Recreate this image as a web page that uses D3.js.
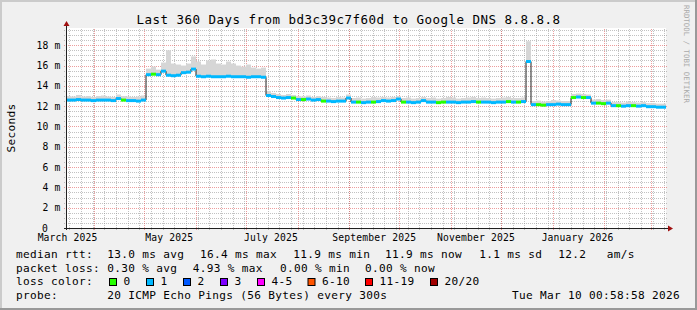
<!DOCTYPE html>
<html lang="en">
<head>
<meta charset="UTF-8">
<title>Last 360 Days from bd3c39c7f60d to Google DNS 8.8.8.8</title>
<script src="https://cdnjs.cloudflare.com/ajax/libs/d3/7.8.5/d3.min.js"></script>
<style>
  body { margin: 0; background: #f0f0f0; }
  svg { display: block; }
  text { font-family: "DejaVu Sans Mono", monospace; fill: #000; }
  .legend { font-size: 11.1px; letter-spacing: 0.32px; white-space: pre; }
  .tick-label { font-size: 9.7px; letter-spacing: 0.16px; }
  .title { font-size: 12.5px; letter-spacing: 0.47px; }
</style>
</head>
<body>
<svg id="chart" width="697" height="310"></svg>
<script>
// --- Data (one sample every 3 days, values in ms) ---
const startTime = new Date(Date.UTC(2025, 2, 15, 0, 58, 58));
const endTime = new Date(Date.UTC(2026, 2, 10, 0, 58, 58));
const stepDays = 3;

const medianMs = [
  12.6, 12.6, 12.65, 12.6, 12.6, 12.55, 12.6, 12.6, 12.6, 12.55, 12.75, 12.6, 12.55, 12.55, 12.5, 12.6,
  15.1, 15.15, 15.1, 15.45, 15.05, 15.0, 15.05, 15.3, 15.35, 15.65,
  14.95, 14.9, 14.95, 14.9, 14.9, 14.9, 14.95, 14.9, 14.9, 14.9, 14.85, 14.9, 14.9, 14.85, 13.05,
  12.95, 12.85, 12.8, 12.85, 12.8,
  12.65, 12.65, 12.7, 12.6, 12.65,
  12.5, 12.5, 12.45, 12.5, 12.5,
  12.8,
  12.4, 12.4, 12.35, 12.4, 12.4, 12.45,
  12.55, 12.5, 12.55, 12.7,
  12.4, 12.4, 12.35, 12.4, 12.55,
  12.4, 12.4, 12.35, 12.4, 12.4, 12.4, 12.35, 12.4, 12.4, 12.45,
  12.4, 12.4, 12.4, 12.35, 12.4, 12.4, 12.45, 12.4, 12.4, 12.45,
  16.4,
  12.15, 12.15, 12.1, 12.15, 12.15, 12.2, 12.15, 12.15,
  12.85, 12.9, 12.85, 12.85,
  12.3, 12.3, 12.25, 12.3,
  12.05, 12.05, 12.0, 12.05, 12.05, 12.0, 12.05,
  11.95, 11.95, 11.9, 11.9
];

const smokeMaxMs = [
  13.0, 12.95, 13.1, 12.95, 13.0, 12.9, 13.0, 13.05, 12.95, 12.9, 13.15, 13.0, 12.95, 12.9, 12.95, 13.05,
  15.7, 15.9, 15.6, 16.3, 17.5, 16.2, 16.1, 16.0, 16.2, 16.9,
  16.4, 16.1, 16.5, 16.6, 16.2, 16.1, 16.4, 16.2, 16.0, 15.9, 16.1, 15.8, 15.7, 15.8, 13.5,
  13.3, 13.2, 13.1, 13.2, 13.1,
  13.0, 12.95, 13.05, 12.9, 13.0,
  12.9, 12.85, 12.8, 12.9, 12.85,
  13.15,
  12.8, 12.85, 12.75, 12.8, 12.9, 12.85,
  12.9, 12.85, 12.9, 13.0,
  12.8, 12.85, 12.75, 12.8, 12.9,
  12.8, 12.85, 12.75, 12.8, 12.9, 12.85, 12.75, 12.8, 12.85, 12.9,
  12.8, 12.85, 12.8, 12.75, 12.8, 12.85, 12.9, 12.8, 12.8, 12.85,
  18.4,
  12.5, 12.55, 12.45, 12.5, 12.6, 12.55, 12.5, 12.5,
  13.2, 13.25, 13.2, 13.15,
  12.65, 12.7, 12.6, 12.65,
  12.4, 12.4, 12.35, 12.45, 12.4, 12.35, 12.4,
  12.3, 12.3, 12.25, 12.25
];

// lost pings (out of 20) per sample
const lostPings = [
  1, 1, 1, 1, 1, 1, 1, 1, 1, 1, 1, 0, 1, 1, 1, 1, 1, 0, 1, 1,
  1, 1, 1, 1, 1, 1, 1, 1, 1, 1, 1, 1, 1, 1, 1, 1, 1, 1, 1, 1,
  1, 1, 1, 1, 1, 0, 1, 0, 1, 1, 1, 0, 1, 1, 1, 1, 1, 1, 0, 1,
  1, 0, 1, 1, 1, 1, 1, 0, 1, 1, 1, 1, 1, 1, 0, 0, 1, 1, 1, 1,
  1, 1, 0, 1, 1, 1, 1, 1, 0, 1, 0, 1, 1, 1, 0, 0, 1, 1, 1, 1,
  1, 0, 1, 0, 1, 1, 0, 0, 1, 1, 0, 1, 1, 0, 1, 1, 1, 1, 1, 1
];

const lossLabels = ["0", "1", "2", "3", "4-5", "6-10", "11-19", "20/20"];
const lossUpper = [0, 1, 2, 3, 5, 10, 19, 20];
const lossColors = ["#26ff00", "#00b8ff", "#0059ff", "#7e00ff", "#ff00ff", "#ff5500", "#ff0000", "#a10000"];

const yTicks = [0, 2, 4, 6, 8, 10, 12, 14, 16, 18];
const yTickLabels = ["0", "2 m", "4 m", "6 m", "8 m", "10 m", "12 m", "14 m", "16 m", "18 m"];
const monthLabels = ["March 2025", "May 2025", "July 2025", "September 2025", "November 2025", "January 2026"];

const rttStats = ["13.0 ms avg", "16.4 ms max", "11.9 ms min", "11.9 ms now", "1.1 ms sd", "12.2", "am/s"];
const lossStats = ["0.30 % avg", "4.93 % max", "0.00 % min", "0.00 % now"];
const probeText = "20 ICMP Echo Pings (56 Bytes) every 300s";
const dateText = "Tue Mar 10 00:58:58 2026";

// --- Setup ---
const W = 697, H = 310;
const plot = { left: 66, right: 666, top: 28, bottom: 228 };
const svg = d3.select("#chart");

const x = d3.scaleUtc().domain([startTime, endTime]).range([plot.left, plot.right]);
const y = d3.scaleLinear().domain([0, 19.7]).range([plot.bottom, plot.top]);
const crisp = v => Math.round(v) + 0.5;

const points = medianMs.map((m, i) => ({
  t0: d3.utcDay.offset(startTime, i * stepDays),
  t1: d3.utcDay.offset(startTime, (i + 1) * stepDays),
  med: m,
  hi: smokeMaxMs[i],
  loss: lostPings[i]
}));

// --- Frame ---
svg.append("rect").attr("width", W).attr("height", H).attr("fill", "#f0f0f0");
svg.append("path").attr("d", `M0,${H} V0 H${W}`).attr("fill", "none")
  .attr("stroke", "#cbcbcb").attr("stroke-width", 4);
svg.append("path").attr("d", `M0,${H} H${W} V0`).attr("fill", "none")
  .attr("stroke", "#999999").attr("stroke-width", 4);
svg.append("rect")
  .attr("x", plot.left).attr("y", plot.top)
  .attr("width", plot.right - plot.left).attr("height", plot.bottom - plot.top)
  .attr("fill", "#ffffff");

// --- Grid ---
const grid = svg.append("g").attr("fill", "none").attr("stroke-width", 1).attr("stroke-dasharray", "1,1");
const minorY = d3.range(0.5, 19.6, 0.5).filter(v => v % 2 !== 0);
grid.selectAll(".hmin").data(minorY).join("line")
  .attr("x1", plot.left - 2).attr("x2", plot.right + 2)
  .attr("y1", d => crisp(y(d))).attr("y2", d => crisp(y(d)))
  .attr("stroke", "rgba(143,143,143,0.55)");
grid.selectAll(".vmin").data(d3.utcMonday.range(startTime, endTime)).join("line")
  .attr("x1", d => crisp(x(d))).attr("x2", d => crisp(x(d)))
  .attr("y1", plot.bottom + 2).attr("y2", plot.top)
  .attr("stroke", "rgba(143,143,143,0.55)");
grid.selectAll(".hmaj").data(yTicks.slice(1)).join("line")
  .attr("x1", plot.left - 2).attr("x2", plot.right + 2)
  .attr("y1", d => crisp(y(d))).attr("y2", d => crisp(y(d)))
  .attr("stroke", "rgba(222,79,79,0.55)");
grid.selectAll(".vmaj").data(d3.utcMonth.range(startTime, endTime)).join("line")
  .attr("x1", d => crisp(x(d))).attr("x2", d => crisp(x(d)))
  .attr("y1", plot.bottom + 2).attr("y2", plot.top)
  .attr("stroke", "rgba(222,79,79,0.55)");

// --- Smoke ---
svg.append("g").selectAll("rect").data(points).join("rect")
  .attr("x", d => x(d.t0)).attr("width", d => x(d.t1) - x(d.t0))
  .attr("y", d => y(d.hi)).attr("height", d => y(d.med) - y(d.hi))
  .attr("fill", "#d6d6d6");

// --- Median line ---
const lineData = points.map(d => [d.t0, d.med]).concat([[endTime, medianMs[medianMs.length - 1]]]);
svg.append("path")
  .attr("d", d3.line().x(d => x(d[0])).y(d => y(d[1])).curve(d3.curveStepAfter)(lineData))
  .attr("fill", "none").attr("stroke", "#202020").attr("stroke-width", 1);

// --- Loss-coloured median band ---
const lossColor = n => lossColors[lossUpper.findIndex(u => n <= u)];
svg.append("g").selectAll("rect").data(points).join("rect")
  .attr("x", d => x(d.t0)).attr("width", d => x(d.t1) - x(d.t0))
  .attr("y", d => y(d.med) - 1.5).attr("height", 3)
  .attr("fill", d => lossColor(d.loss));

// --- Axes ---
const axisColor = "#212121";
svg.append("line").attr("x1", plot.left - 2).attr("x2", plot.right + 4)
  .attr("y1", plot.bottom + 0.5).attr("y2", plot.bottom + 0.5).attr("stroke", axisColor);
svg.append("line").attr("x1", plot.left + 0.5).attr("x2", plot.left + 0.5)
  .attr("y1", plot.bottom + 2).attr("y2", plot.top - 4).attr("stroke", axisColor);
svg.append("path")
  .attr("d", `M${plot.right + 2},${plot.bottom - 2.5} L${plot.right + 7},${plot.bottom + 0.5} L${plot.right + 2},${plot.bottom + 3.5} Z`)
  .attr("fill", "#a01010");
svg.append("path")
  .attr("d", `M${plot.left - 2.5},${plot.top - 2} L${plot.left + 0.5},${plot.top - 7} L${plot.left + 3.5},${plot.top - 2} Z`)
  .attr("fill", "#a01010");

// y tick labels
svg.append("g").selectAll("text").data(yTicks).join("text")
  .attr("class", "tick-label")
  .attr("x", (d, i) => i === 0 ? 48 : 60.5)
  .attr("y", d => y(d) + 3.6)
  .attr("text-anchor", "end")
  .text((d, i) => yTickLabels[i]);

// x tick labels, centred half a month after the month start
const parseMonth = d3.utcParse("%B %Y");
svg.append("g").selectAll("text").data(monthLabels).join("text")
  .attr("class", "tick-label")
  .attr("x", d => x(d3.utcDay.offset(parseMonth(d), 15)))
  .attr("y", 241)
  .attr("text-anchor", "middle")
  .text(d => d);

// --- Title and axis label ---
svg.append("text").attr("class", "title")
  .attr("x", 348.5).attr("y", 24).attr("text-anchor", "middle")
  .text("Last 360 Days from bd3c39c7f60d to Google DNS 8.8.8.8");
svg.append("text").attr("class", "legend")
  .attr("transform", "translate(15,128) rotate(-90)")
  .attr("text-anchor", "middle")
  .text("Seconds");
svg.append("text")
  .attr("transform", "translate(684,5) rotate(90)")
  .style("font-size", "7.4px").style("fill", "#aaaaaa")
  .text("RRDTOOL / TOBI OETIKER");

// --- Legend ---
const rows = [258, 271.7, 285.4, 299.1];
const leg = svg.append("g").attr("class", "legend-block");
const addText = (tx, ty, s, anchor) => leg.append("text").attr("class", "legend")
  .attr("x", tx).attr("y", ty).attr("text-anchor", anchor || "start").text(s);

addText(16, rows[0], "median rtt:");
[107.3, 200, 293.3, 385, 479.3, 558.3, 606.7].forEach((px, i) => addText(px, rows[0], rttStats[i]));
addText(16, rows[1], "packet loss:");
[107.3, 192.7, 280, 365].forEach((px, i) => addText(px, rows[1], lossStats[i]));
addText(16, rows[2], "loss color:");
const boxX = [109, 146, 183, 220, 257, 307.5, 365, 430];
lossLabels.forEach((lab, i) => {
  leg.append("rect").attr("x", boxX[i] + 0.5).attr("y", 278.5).attr("width", 7).attr("height", 7)
    .attr("fill", lossColors[i]).attr("stroke", "#000").attr("stroke-width", 1);
  addText(boxX[i] + 14.5, rows[2], lab);
});
addText(16, rows[3], "probe:");
addText(107.3, rows[3], probeText);
addText(680, rows[3], dateText, "end");
</script>
</body>
</html>
